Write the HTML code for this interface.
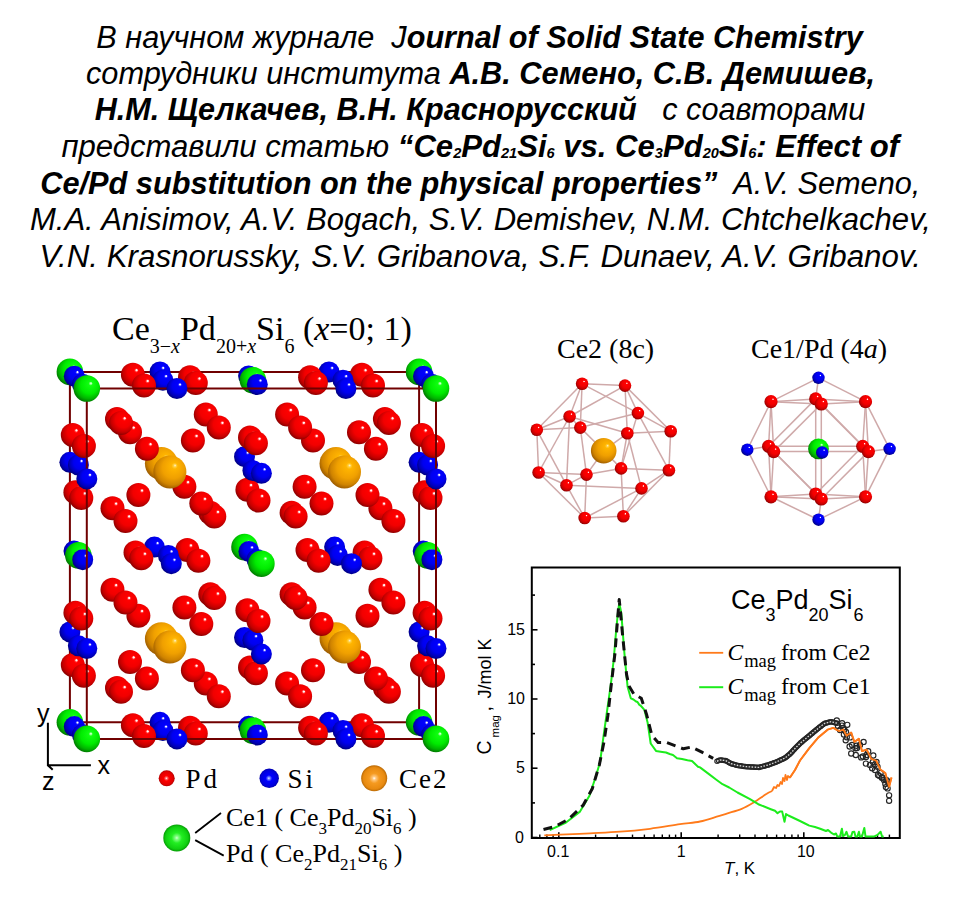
<!DOCTYPE html>
<html><head><meta charset="utf-8">
<style>
html,body{margin:0;padding:0;background:#fff;}
body{width:960px;height:903px;position:relative;overflow:hidden;}
.hd{position:absolute;left:0;width:960px;text-align:center;font-family:"Liberation Sans",sans-serif;font-style:italic;font-size:31px;line-height:37px;color:#000;white-space:pre;transform-origin:480px 50%;}
.hd b{font-weight:bold;}
.hd sub{font-size:14.5px;vertical-align:baseline;position:relative;top:0.5px;}
svg{position:absolute;left:0;top:0;}
</style></head><body>
<div class="hd" style="top:19px;transform:translateX(-0.45px) scaleX(0.988)">В научном журнале  J<b>ournal of Solid State Chemistry</b></div>
<div class="hd" style="top:55px;transform:translateX(0.55px) scaleX(0.991)">сотрудники института <b>А.В. Семено, С.В. Демишев,</b></div>
<div class="hd" style="top:91px;transform:scaleX(0.987)"><b>Н.М. Щелкачев, В.Н. Краснорусский</b>   с соавторами</div>
<div class="hd" style="top:128px;transform:translateX(0.25px) scaleX(1.0025)">представили статью <b>“Ce<sub>2</sub>Pd<sub>21</sub>Si<sub>6</sub> vs. Ce<sub>3</sub>Pd<sub>20</sub>Si<sub>6</sub>: Effect of</b></div>
<div class="hd" style="top:165px;transform:translateX(0.35px) scaleX(0.990)"><b>Ce/Pd substitution on the physical properties”</b>  A.V. Semeno,</div>
<div class="hd" style="top:201px;transform:translateX(0.45px) scaleX(1.002)">M.A. Anisimov, A.V. Bogach, S.V. Demishev, N.M. Chtchelkachev,</div>
<div class="hd" style="top:238px;transform:translateX(0.2px) scaleX(1.009)">V.N. Krasnorussky, S.V. Gribanova, S.F. Dunaev, A.V. Gribanov.</div>
<svg width="960" height="903" viewBox="0 0 960 903">
<defs>
<radialGradient id="gR" cx="0.56" cy="0.42" r="0.6" fx="0.66" fy="0.3"><stop offset="0" stop-color="#fff"/><stop offset="0.05" stop-color="#fff0f0"/><stop offset="0.1" stop-color="#ff4040"/><stop offset="0.16" stop-color="#ff0000"/><stop offset="0.55" stop-color="#f20000"/><stop offset="0.82" stop-color="#c40000"/><stop offset="1" stop-color="#860000"/></radialGradient>
<radialGradient id="gB" cx="0.56" cy="0.42" r="0.6" fx="0.66" fy="0.3"><stop offset="0" stop-color="#fff"/><stop offset="0.05" stop-color="#f0f0ff"/><stop offset="0.1" stop-color="#4848ff"/><stop offset="0.16" stop-color="#0000ff"/><stop offset="0.55" stop-color="#0000f0"/><stop offset="0.82" stop-color="#0000b8"/><stop offset="1" stop-color="#000078"/></radialGradient>
<radialGradient id="gG" cx="0.56" cy="0.42" r="0.6" fx="0.66" fy="0.3"><stop offset="0" stop-color="#fff"/><stop offset="0.06" stop-color="#90ff90"/><stop offset="0.13" stop-color="#10ff10"/><stop offset="0.55" stop-color="#00ec00"/><stop offset="0.82" stop-color="#00b400"/><stop offset="1" stop-color="#007400"/></radialGradient>
<radialGradient id="gO" cx="0.56" cy="0.42" r="0.6" fx="0.66" fy="0.3"><stop offset="0" stop-color="#fff4e0"/><stop offset="0.07" stop-color="#ffd040"/><stop offset="0.16" stop-color="#ffb400"/><stop offset="0.55" stop-color="#f0a000"/><stop offset="0.82" stop-color="#d08400"/><stop offset="1" stop-color="#9a5a00"/></radialGradient>
<radialGradient id="gLR" cx="0.5" cy="0.5" r="0.55" fx="0.48" fy="0.5"><stop offset="0" stop-color="#fff"/><stop offset="0.12" stop-color="#ff7070"/><stop offset="0.3" stop-color="#ff0000"/><stop offset="0.75" stop-color="#e00000"/><stop offset="1" stop-color="#900000"/></radialGradient>
<radialGradient id="gLB" cx="0.5" cy="0.5" r="0.55" fx="0.48" fy="0.5"><stop offset="0" stop-color="#e0e8ff"/><stop offset="0.12" stop-color="#7080ff"/><stop offset="0.3" stop-color="#0000ff"/><stop offset="0.75" stop-color="#0000dc"/><stop offset="1" stop-color="#000090"/></radialGradient>
<radialGradient id="gLO" cx="0.5" cy="0.5" r="0.55" fx="0.5" fy="0.5"><stop offset="0" stop-color="#fff"/><stop offset="0.12" stop-color="#ffc880"/><stop offset="0.35" stop-color="#f59a20"/><stop offset="0.75" stop-color="#e88a10"/><stop offset="1" stop-color="#a05800"/></radialGradient>
<radialGradient id="gLG" cx="0.5" cy="0.5" r="0.55" fx="0.5" fy="0.5"><stop offset="0" stop-color="#d0ffd0"/><stop offset="0.12" stop-color="#80ff80"/><stop offset="0.35" stop-color="#22ee22"/><stop offset="0.75" stop-color="#10d010"/><stop offset="1" stop-color="#008000"/></radialGradient>
</defs>
<path d="M69.9 371.9H419.1V722.3H69.9Z" fill="none" stroke="#700000" stroke-width="2"/>
<circle cx="69.9" cy="371.9" r="13.3" fill="url(#gG)"/>
<circle cx="69.9" cy="462.3" r="10.5" fill="url(#gB)"/>
<circle cx="69.9" cy="631.9" r="10.5" fill="url(#gB)"/>
<circle cx="69.9" cy="722.3" r="13.3" fill="url(#gG)"/>
<circle cx="130.0" cy="432.2" r="12.0" fill="url(#gR)"/>
<circle cx="130.0" cy="662.0" r="12.0" fill="url(#gR)"/>
<circle cx="154.4" cy="547.1" r="10.5" fill="url(#gB)"/>
<circle cx="160.0" cy="371.9" r="10.5" fill="url(#gB)"/>
<circle cx="160.0" cy="722.3" r="10.5" fill="url(#gB)"/>
<circle cx="184.4" cy="486.8" r="12.0" fill="url(#gR)"/>
<circle cx="184.4" cy="607.4" r="12.0" fill="url(#gR)"/>
<circle cx="244.5" cy="456.7" r="10.5" fill="url(#gB)"/>
<circle cx="244.5" cy="547.1" r="13.3" fill="url(#gG)"/>
<circle cx="244.5" cy="637.5" r="10.5" fill="url(#gB)"/>
<circle cx="304.6" cy="486.8" r="12.0" fill="url(#gR)"/>
<circle cx="304.6" cy="607.4" r="12.0" fill="url(#gR)"/>
<circle cx="329.0" cy="371.9" r="10.5" fill="url(#gB)"/>
<circle cx="329.0" cy="722.3" r="10.5" fill="url(#gB)"/>
<circle cx="334.6" cy="547.1" r="10.5" fill="url(#gB)"/>
<circle cx="359.0" cy="432.2" r="12.0" fill="url(#gR)"/>
<circle cx="359.0" cy="662.0" r="12.0" fill="url(#gR)"/>
<circle cx="419.1" cy="371.9" r="13.3" fill="url(#gG)"/>
<circle cx="419.1" cy="462.3" r="10.5" fill="url(#gB)"/>
<circle cx="419.1" cy="631.9" r="10.5" fill="url(#gB)"/>
<circle cx="419.1" cy="722.3" r="13.3" fill="url(#gG)"/>
<circle cx="112.5" cy="508.2" r="12.0" fill="url(#gR)"/>
<circle cx="112.5" cy="589.8" r="12.0" fill="url(#gR)"/>
<circle cx="205.8" cy="414.6" r="12.0" fill="url(#gR)"/>
<circle cx="205.8" cy="683.4" r="12.0" fill="url(#gR)"/>
<circle cx="287.1" cy="414.6" r="12.0" fill="url(#gR)"/>
<circle cx="287.1" cy="683.4" r="12.0" fill="url(#gR)"/>
<circle cx="380.4" cy="508.2" r="12.0" fill="url(#gR)"/>
<circle cx="380.4" cy="589.8" r="12.0" fill="url(#gR)"/>
<circle cx="72.8" cy="435.0" r="12.0" fill="url(#gR)"/>
<circle cx="72.8" cy="664.9" r="12.0" fill="url(#gR)"/>
<circle cx="132.9" cy="374.8" r="12.0" fill="url(#gR)"/>
<circle cx="132.9" cy="725.2" r="12.0" fill="url(#gR)"/>
<circle cx="187.3" cy="550.0" r="12.0" fill="url(#gR)"/>
<circle cx="247.4" cy="489.7" r="12.0" fill="url(#gR)"/>
<circle cx="247.4" cy="610.2" r="12.0" fill="url(#gR)"/>
<circle cx="307.5" cy="550.0" r="12.0" fill="url(#gR)"/>
<circle cx="361.9" cy="374.8" r="12.0" fill="url(#gR)"/>
<circle cx="361.9" cy="725.2" r="12.0" fill="url(#gR)"/>
<circle cx="422.0" cy="435.0" r="12.0" fill="url(#gR)"/>
<circle cx="422.0" cy="664.9" r="12.0" fill="url(#gR)"/>
<circle cx="74.0" cy="551.1" r="10.5" fill="url(#gB)"/>
<circle cx="248.6" cy="375.9" r="10.5" fill="url(#gB)"/>
<circle cx="248.6" cy="726.3" r="10.5" fill="url(#gB)"/>
<circle cx="423.2" cy="551.1" r="10.5" fill="url(#gB)"/>
<circle cx="161.4" cy="463.6" r="16.5" fill="url(#gO)"/>
<circle cx="161.4" cy="638.8" r="16.5" fill="url(#gO)"/>
<circle cx="336.0" cy="463.6" r="16.5" fill="url(#gO)"/>
<circle cx="336.0" cy="638.8" r="16.5" fill="url(#gO)"/>
<circle cx="74.3" cy="376.2" r="10.5" fill="url(#gB)"/>
<circle cx="74.3" cy="726.6" r="10.5" fill="url(#gB)"/>
<circle cx="248.9" cy="551.4" r="10.5" fill="url(#gB)"/>
<circle cx="423.5" cy="376.2" r="10.5" fill="url(#gB)"/>
<circle cx="423.5" cy="726.6" r="10.5" fill="url(#gB)"/>
<circle cx="75.4" cy="492.3" r="12.0" fill="url(#gR)"/>
<circle cx="75.4" cy="612.8" r="12.0" fill="url(#gR)"/>
<circle cx="135.5" cy="552.5" r="12.0" fill="url(#gR)"/>
<circle cx="190.0" cy="377.3" r="12.0" fill="url(#gR)"/>
<circle cx="190.0" cy="727.7" r="12.0" fill="url(#gR)"/>
<circle cx="250.0" cy="437.6" r="12.0" fill="url(#gR)"/>
<circle cx="250.0" cy="667.5" r="12.0" fill="url(#gR)"/>
<circle cx="310.1" cy="377.3" r="12.0" fill="url(#gR)"/>
<circle cx="310.1" cy="727.7" r="12.0" fill="url(#gR)"/>
<circle cx="364.6" cy="552.5" r="12.0" fill="url(#gR)"/>
<circle cx="424.6" cy="492.3" r="12.0" fill="url(#gR)"/>
<circle cx="424.6" cy="612.8" r="12.0" fill="url(#gR)"/>
<circle cx="117.0" cy="419.1" r="12.0" fill="url(#gR)"/>
<circle cx="117.0" cy="687.9" r="12.0" fill="url(#gR)"/>
<circle cx="210.3" cy="512.7" r="12.0" fill="url(#gR)"/>
<circle cx="210.3" cy="594.3" r="12.0" fill="url(#gR)"/>
<circle cx="291.6" cy="512.7" r="12.0" fill="url(#gR)"/>
<circle cx="291.6" cy="594.3" r="12.0" fill="url(#gR)"/>
<circle cx="384.9" cy="419.1" r="12.0" fill="url(#gR)"/>
<circle cx="384.9" cy="687.9" r="12.0" fill="url(#gR)"/>
<circle cx="78.4" cy="465.0" r="10.5" fill="url(#gB)"/>
<circle cx="78.4" cy="555.4" r="13.3" fill="url(#gG)"/>
<circle cx="78.4" cy="645.8" r="10.5" fill="url(#gB)"/>
<circle cx="138.4" cy="495.1" r="12.0" fill="url(#gR)"/>
<circle cx="138.4" cy="615.7" r="12.0" fill="url(#gR)"/>
<circle cx="162.9" cy="380.2" r="10.5" fill="url(#gB)"/>
<circle cx="162.9" cy="730.6" r="10.5" fill="url(#gB)"/>
<circle cx="168.4" cy="555.4" r="10.5" fill="url(#gB)"/>
<circle cx="192.9" cy="440.5" r="12.0" fill="url(#gR)"/>
<circle cx="192.9" cy="670.3" r="12.0" fill="url(#gR)"/>
<circle cx="252.9" cy="380.2" r="13.3" fill="url(#gG)"/>
<circle cx="252.9" cy="470.6" r="10.5" fill="url(#gB)"/>
<circle cx="252.9" cy="640.2" r="10.5" fill="url(#gB)"/>
<circle cx="252.9" cy="730.6" r="13.3" fill="url(#gG)"/>
<circle cx="313.0" cy="440.5" r="12.0" fill="url(#gR)"/>
<circle cx="313.0" cy="670.3" r="12.0" fill="url(#gR)"/>
<circle cx="337.5" cy="555.4" r="10.5" fill="url(#gB)"/>
<circle cx="343.0" cy="380.2" r="10.5" fill="url(#gB)"/>
<circle cx="343.0" cy="730.6" r="10.5" fill="url(#gB)"/>
<circle cx="367.5" cy="495.1" r="12.0" fill="url(#gR)"/>
<circle cx="367.5" cy="615.7" r="12.0" fill="url(#gR)"/>
<circle cx="427.6" cy="465.0" r="10.5" fill="url(#gB)"/>
<circle cx="427.6" cy="555.4" r="13.3" fill="url(#gG)"/>
<circle cx="427.6" cy="645.8" r="10.5" fill="url(#gB)"/>
<circle cx="121.0" cy="422.9" r="12.0" fill="url(#gR)"/>
<circle cx="121.0" cy="691.7" r="12.0" fill="url(#gR)"/>
<circle cx="214.3" cy="516.5" r="12.0" fill="url(#gR)"/>
<circle cx="214.3" cy="598.1" r="12.0" fill="url(#gR)"/>
<circle cx="295.6" cy="516.5" r="12.0" fill="url(#gR)"/>
<circle cx="295.6" cy="598.1" r="12.0" fill="url(#gR)"/>
<circle cx="388.9" cy="422.9" r="12.0" fill="url(#gR)"/>
<circle cx="388.9" cy="691.7" r="12.0" fill="url(#gR)"/>
<circle cx="81.3" cy="498.0" r="12.0" fill="url(#gR)"/>
<circle cx="81.3" cy="618.5" r="12.0" fill="url(#gR)"/>
<circle cx="141.3" cy="558.3" r="12.0" fill="url(#gR)"/>
<circle cx="195.8" cy="383.1" r="12.0" fill="url(#gR)"/>
<circle cx="195.8" cy="733.5" r="12.0" fill="url(#gR)"/>
<circle cx="255.9" cy="443.3" r="12.0" fill="url(#gR)"/>
<circle cx="255.9" cy="673.2" r="12.0" fill="url(#gR)"/>
<circle cx="315.9" cy="383.1" r="12.0" fill="url(#gR)"/>
<circle cx="315.9" cy="733.5" r="12.0" fill="url(#gR)"/>
<circle cx="370.4" cy="558.3" r="12.0" fill="url(#gR)"/>
<circle cx="430.5" cy="498.0" r="12.0" fill="url(#gR)"/>
<circle cx="430.5" cy="618.5" r="12.0" fill="url(#gR)"/>
<circle cx="82.4" cy="384.2" r="10.5" fill="url(#gB)"/>
<circle cx="82.4" cy="734.6" r="10.5" fill="url(#gB)"/>
<circle cx="257.0" cy="559.4" r="10.5" fill="url(#gB)"/>
<circle cx="431.6" cy="384.2" r="10.5" fill="url(#gB)"/>
<circle cx="431.6" cy="734.6" r="10.5" fill="url(#gB)"/>
<circle cx="169.9" cy="471.9" r="16.5" fill="url(#gO)"/>
<circle cx="169.9" cy="647.1" r="16.5" fill="url(#gO)"/>
<circle cx="344.5" cy="471.9" r="16.5" fill="url(#gO)"/>
<circle cx="344.5" cy="647.1" r="16.5" fill="url(#gO)"/>
<circle cx="82.7" cy="559.7" r="10.5" fill="url(#gB)"/>
<circle cx="257.3" cy="384.5" r="10.5" fill="url(#gB)"/>
<circle cx="257.3" cy="734.9" r="10.5" fill="url(#gB)"/>
<circle cx="431.9" cy="559.7" r="10.5" fill="url(#gB)"/>
<circle cx="83.9" cy="445.9" r="12.0" fill="url(#gR)"/>
<circle cx="83.9" cy="675.8" r="12.0" fill="url(#gR)"/>
<circle cx="144.0" cy="385.6" r="12.0" fill="url(#gR)"/>
<circle cx="144.0" cy="736.0" r="12.0" fill="url(#gR)"/>
<circle cx="198.4" cy="560.8" r="12.0" fill="url(#gR)"/>
<circle cx="258.5" cy="500.6" r="12.0" fill="url(#gR)"/>
<circle cx="258.5" cy="621.1" r="12.0" fill="url(#gR)"/>
<circle cx="318.6" cy="560.8" r="12.0" fill="url(#gR)"/>
<circle cx="373.0" cy="385.6" r="12.0" fill="url(#gR)"/>
<circle cx="373.0" cy="736.0" r="12.0" fill="url(#gR)"/>
<circle cx="433.1" cy="445.9" r="12.0" fill="url(#gR)"/>
<circle cx="433.1" cy="675.8" r="12.0" fill="url(#gR)"/>
<circle cx="125.5" cy="521.0" r="12.0" fill="url(#gR)"/>
<circle cx="125.5" cy="602.6" r="12.0" fill="url(#gR)"/>
<circle cx="218.8" cy="427.4" r="12.0" fill="url(#gR)"/>
<circle cx="218.8" cy="696.2" r="12.0" fill="url(#gR)"/>
<circle cx="300.1" cy="427.4" r="12.0" fill="url(#gR)"/>
<circle cx="300.1" cy="696.2" r="12.0" fill="url(#gR)"/>
<circle cx="393.4" cy="521.0" r="12.0" fill="url(#gR)"/>
<circle cx="393.4" cy="602.6" r="12.0" fill="url(#gR)"/>
<path d="M86.8 388.5H436V738.9H86.8Z" fill="none" stroke="#700000" stroke-width="2"/>
<circle cx="86.8" cy="388.5" r="13.3" fill="url(#gG)"/>
<circle cx="86.8" cy="478.9" r="10.5" fill="url(#gB)"/>
<circle cx="86.8" cy="648.5" r="10.5" fill="url(#gB)"/>
<circle cx="86.8" cy="738.9" r="13.3" fill="url(#gG)"/>
<circle cx="146.9" cy="448.8" r="12.0" fill="url(#gR)"/>
<circle cx="146.9" cy="678.6" r="12.0" fill="url(#gR)"/>
<circle cx="171.3" cy="563.7" r="10.5" fill="url(#gB)"/>
<circle cx="176.9" cy="388.5" r="10.5" fill="url(#gB)"/>
<circle cx="176.9" cy="738.9" r="10.5" fill="url(#gB)"/>
<circle cx="201.3" cy="503.4" r="12.0" fill="url(#gR)"/>
<circle cx="201.3" cy="624.0" r="12.0" fill="url(#gR)"/>
<circle cx="261.4" cy="473.3" r="10.5" fill="url(#gB)"/>
<circle cx="261.4" cy="563.7" r="13.3" fill="url(#gG)"/>
<circle cx="261.4" cy="654.1" r="10.5" fill="url(#gB)"/>
<circle cx="321.5" cy="503.4" r="12.0" fill="url(#gR)"/>
<circle cx="321.5" cy="624.0" r="12.0" fill="url(#gR)"/>
<circle cx="345.9" cy="388.5" r="10.5" fill="url(#gB)"/>
<circle cx="345.9" cy="738.9" r="10.5" fill="url(#gB)"/>
<circle cx="351.5" cy="563.7" r="10.5" fill="url(#gB)"/>
<circle cx="375.9" cy="448.8" r="12.0" fill="url(#gR)"/>
<circle cx="375.9" cy="678.6" r="12.0" fill="url(#gR)"/>
<circle cx="436.0" cy="388.5" r="13.3" fill="url(#gG)"/>
<circle cx="436.0" cy="478.9" r="10.5" fill="url(#gB)"/>
<circle cx="436.0" cy="648.5" r="10.5" fill="url(#gB)"/>
<circle cx="436.0" cy="738.9" r="13.3" fill="url(#gG)"/>
<g stroke="#cfa9a9" stroke-width="1.5" fill="none">
<line x1="582.1" y1="383.8" x2="625" y2="385.6"/>
<line x1="582.1" y1="383.8" x2="569.6" y2="416.5"/>
<line x1="582.1" y1="383.8" x2="536.8" y2="429.8"/>
<line x1="582.1" y1="383.8" x2="580.3" y2="427.6"/>
<line x1="582.1" y1="383.8" x2="637.9" y2="413.1"/>
<line x1="625" y1="385.6" x2="569.6" y2="416.5"/>
<line x1="625" y1="385.6" x2="637.9" y2="413.1"/>
<line x1="625" y1="385.6" x2="627.3" y2="433.3"/>
<line x1="625" y1="385.6" x2="670.7" y2="431.2"/>
<line x1="569.6" y1="416.5" x2="536.8" y2="429.8"/>
<line x1="569.6" y1="416.5" x2="627.3" y2="433.3"/>
<line x1="569.6" y1="416.5" x2="538.6" y2="472.5"/>
<line x1="569.6" y1="416.5" x2="566.5" y2="485.2"/>
<line x1="637.9" y1="413.1" x2="580.3" y2="427.6"/>
<line x1="637.9" y1="413.1" x2="670.7" y2="431.2"/>
<line x1="637.9" y1="413.1" x2="668.9" y2="470.2"/>
<line x1="637.9" y1="413.1" x2="621.1" y2="468.4"/>
<line x1="536.8" y1="429.8" x2="580.3" y2="427.6"/>
<line x1="536.8" y1="429.8" x2="538.6" y2="472.5"/>
<line x1="536.8" y1="429.8" x2="566.5" y2="485.2"/>
<line x1="580.3" y1="427.6" x2="586.5" y2="474.6"/>
<line x1="627.3" y1="433.3" x2="670.7" y2="431.2"/>
<line x1="627.3" y1="433.3" x2="621.1" y2="468.4"/>
<line x1="627.3" y1="433.3" x2="641.5" y2="488.4"/>
<line x1="670.7" y1="431.2" x2="668.9" y2="470.2"/>
<line x1="538.6" y1="472.5" x2="586.5" y2="474.6"/>
<line x1="538.6" y1="472.5" x2="566.5" y2="485.2"/>
<line x1="538.6" y1="472.5" x2="584.7" y2="518"/>
<line x1="586.5" y1="474.6" x2="621.1" y2="468.4"/>
<line x1="586.5" y1="474.6" x2="566.5" y2="485.2"/>
<line x1="586.5" y1="474.6" x2="584.7" y2="518"/>
<line x1="621.1" y1="468.4" x2="668.9" y2="470.2"/>
<line x1="621.1" y1="468.4" x2="623.4" y2="516.3"/>
<line x1="668.9" y1="470.2" x2="641.5" y2="488.4"/>
<line x1="668.9" y1="470.2" x2="623.4" y2="516.3"/>
<line x1="566.5" y1="485.2" x2="641.5" y2="488.4"/>
<line x1="566.5" y1="485.2" x2="584.7" y2="518"/>
<line x1="641.5" y1="488.4" x2="584.7" y2="518"/>
<line x1="641.5" y1="488.4" x2="623.4" y2="516.3"/>
<line x1="584.7" y1="518" x2="623.4" y2="516.3"/>
<line x1="569.6" y1="416.5" x2="580.3" y2="427.6"/>
<line x1="580.3" y1="427.6" x2="603.7" y2="450.7"/>
<line x1="627.3" y1="433.3" x2="603.7" y2="450.7"/>
<line x1="586.5" y1="474.6" x2="603.7" y2="450.7"/>
<line x1="621.1" y1="468.4" x2="603.7" y2="450.7"/>
</g>
<circle cx="582.1" cy="383.8" r="6.3" fill="url(#gR)"/>
<circle cx="625" cy="385.6" r="6.3" fill="url(#gR)"/>
<circle cx="569.6" cy="416.5" r="6.3" fill="url(#gR)"/>
<circle cx="637.9" cy="413.1" r="6.3" fill="url(#gR)"/>
<circle cx="536.8" cy="429.8" r="6.3" fill="url(#gR)"/>
<circle cx="580.3" cy="427.6" r="6.3" fill="url(#gR)"/>
<circle cx="627.3" cy="433.3" r="6.3" fill="url(#gR)"/>
<circle cx="670.7" cy="431.2" r="6.3" fill="url(#gR)"/>
<circle cx="538.6" cy="472.5" r="6.3" fill="url(#gR)"/>
<circle cx="586.5" cy="474.6" r="6.3" fill="url(#gR)"/>
<circle cx="621.1" cy="468.4" r="6.3" fill="url(#gR)"/>
<circle cx="668.9" cy="470.2" r="6.3" fill="url(#gR)"/>
<circle cx="566.5" cy="485.2" r="6.3" fill="url(#gR)"/>
<circle cx="641.5" cy="488.4" r="6.3" fill="url(#gR)"/>
<circle cx="584.7" cy="518" r="6.3" fill="url(#gR)"/>
<circle cx="623.4" cy="516.3" r="6.3" fill="url(#gR)"/>
<circle cx="603.7" cy="450.7" r="12.8" fill="url(#gO)"/>
<g stroke="#cfa9a9" stroke-width="1.5" fill="none">
<line x1="818.5" y1="377.8" x2="771" y2="401.7"/>
<line x1="818.5" y1="377.8" x2="865.5" y2="401.7"/>
<line x1="818.5" y1="377.8" x2="815.7" y2="398.9"/>
<line x1="747.3" y1="449.7" x2="771" y2="401.7"/>
<line x1="747.3" y1="449.7" x2="771" y2="496.8"/>
<line x1="747.3" y1="449.7" x2="768.6" y2="446.3"/>
<line x1="889.6" y1="448.8" x2="865.5" y2="401.7"/>
<line x1="889.6" y1="448.8" x2="865.5" y2="496.8"/>
<line x1="889.6" y1="448.8" x2="868.4" y2="451.6"/>
<line x1="818.5" y1="519.7" x2="771" y2="496.8"/>
<line x1="818.5" y1="519.7" x2="865.5" y2="496.8"/>
<line x1="818.5" y1="519.7" x2="821.3" y2="499"/>
<line x1="771" y1="401.7" x2="815.7" y2="398.9"/>
<line x1="821.3" y1="404" x2="865.5" y2="401.7"/>
<line x1="771" y1="401.7" x2="821.3" y2="404"/>
<line x1="815.7" y1="398.9" x2="865.5" y2="401.7"/>
<line x1="771" y1="496.8" x2="815.7" y2="494"/>
<line x1="821.3" y1="499" x2="865.5" y2="496.8"/>
<line x1="771" y1="496.8" x2="821.3" y2="499"/>
<line x1="815.7" y1="494" x2="865.5" y2="496.8"/>
<line x1="771" y1="401.7" x2="768.6" y2="446.3"/>
<line x1="773.7" y1="451.6" x2="771" y2="496.8"/>
<line x1="771" y1="401.7" x2="773.7" y2="451.6"/>
<line x1="768.6" y1="446.3" x2="771" y2="496.8"/>
<line x1="865.5" y1="401.7" x2="862.7" y2="446.3"/>
<line x1="868.4" y1="451.6" x2="865.5" y2="496.8"/>
<line x1="865.5" y1="401.7" x2="868.4" y2="451.6"/>
<line x1="862.7" y1="446.3" x2="865.5" y2="496.8"/>
<line x1="815.7" y1="398.9" x2="768.6" y2="446.3"/>
<line x1="821.3" y1="404" x2="773.7" y2="451.6"/>
<line x1="815.7" y1="398.9" x2="862.7" y2="446.3"/>
<line x1="821.3" y1="404" x2="868.4" y2="451.6"/>
<line x1="815.7" y1="494" x2="768.6" y2="446.3"/>
<line x1="821.3" y1="499" x2="773.7" y2="451.6"/>
<line x1="815.7" y1="494" x2="862.7" y2="446.3"/>
<line x1="821.3" y1="499" x2="868.4" y2="451.6"/>
<line x1="815.7" y1="398.9" x2="815.7" y2="494"/>
<line x1="821.3" y1="404" x2="821.3" y2="499"/>
<line x1="768.6" y1="446.3" x2="862.7" y2="446.3"/>
<line x1="773.7" y1="451.6" x2="868.4" y2="451.6"/>
</g>
<circle cx="771" cy="401.7" r="6.6" fill="url(#gR)"/>
<circle cx="865.5" cy="401.7" r="6.6" fill="url(#gR)"/>
<circle cx="771" cy="496.8" r="6.6" fill="url(#gR)"/>
<circle cx="865.5" cy="496.8" r="6.6" fill="url(#gR)"/>
<circle cx="815.7" cy="398.9" r="6.6" fill="url(#gR)"/>
<circle cx="768.6" cy="446.3" r="6.6" fill="url(#gR)"/>
<circle cx="862.7" cy="446.3" r="6.6" fill="url(#gR)"/>
<circle cx="815.7" cy="494" r="6.6" fill="url(#gR)"/>
<circle cx="818.5" cy="448.8" r="10.4" fill="url(#gG)"/>
<circle cx="821.3" cy="404" r="6.6" fill="url(#gR)"/>
<circle cx="773.7" cy="451.6" r="6.6" fill="url(#gR)"/>
<circle cx="868.4" cy="451.6" r="6.6" fill="url(#gR)"/>
<circle cx="821.3" cy="499" r="6.6" fill="url(#gR)"/>
<circle cx="818.5" cy="377.8" r="6.2" fill="url(#gB)"/>
<circle cx="747.3" cy="449.7" r="6.2" fill="url(#gB)"/>
<circle cx="889.6" cy="448.8" r="6.2" fill="url(#gB)"/>
<circle cx="818.5" cy="519.7" r="6.2" fill="url(#gB)"/>
<circle cx="822.2" cy="452.5" r="6.2" fill="url(#gB)"/>
<path d="M531.8 567.4H899.8V838.1H531.8Z" fill="none" stroke="#000" stroke-width="2"/>
<line x1="531.8" y1="837.5" x2="537.5" y2="837.5" stroke="#000" stroke-width="1.6"/>
<line x1="531.8" y1="768.2" x2="537.5" y2="768.2" stroke="#000" stroke-width="1.6"/>
<line x1="531.8" y1="699.0" x2="537.5" y2="699.0" stroke="#000" stroke-width="1.6"/>
<line x1="531.8" y1="629.8" x2="537.5" y2="629.8" stroke="#000" stroke-width="1.6"/>
<line x1="531.8" y1="802.9" x2="535" y2="802.9" stroke="#000" stroke-width="1.6"/>
<line x1="531.8" y1="733.6" x2="535" y2="733.6" stroke="#000" stroke-width="1.6"/>
<line x1="531.8" y1="664.4" x2="535" y2="664.4" stroke="#000" stroke-width="1.6"/>
<line x1="531.8" y1="595.1" x2="535" y2="595.1" stroke="#000" stroke-width="1.6"/>
<line x1="558.8" y1="838" x2="558.8" y2="832.3" stroke="#000" stroke-width="1.6"/>
<line x1="681.2" y1="838" x2="681.2" y2="832.3" stroke="#000" stroke-width="1.6"/>
<line x1="803.8" y1="838" x2="803.8" y2="832.3" stroke="#000" stroke-width="1.6"/>
<line x1="539.8" y1="838" x2="539.8" y2="834.6" stroke="#000" stroke-width="1.4"/>
<line x1="546.9" y1="838" x2="546.9" y2="834.6" stroke="#000" stroke-width="1.4"/>
<line x1="553.1" y1="838" x2="553.1" y2="834.6" stroke="#000" stroke-width="1.4"/>
<line x1="595.6" y1="838" x2="595.6" y2="834.6" stroke="#000" stroke-width="1.4"/>
<line x1="617.2" y1="838" x2="617.2" y2="834.6" stroke="#000" stroke-width="1.4"/>
<line x1="632.5" y1="838" x2="632.5" y2="834.6" stroke="#000" stroke-width="1.4"/>
<line x1="644.4" y1="838" x2="644.4" y2="834.6" stroke="#000" stroke-width="1.4"/>
<line x1="654.1" y1="838" x2="654.1" y2="834.6" stroke="#000" stroke-width="1.4"/>
<line x1="662.3" y1="838" x2="662.3" y2="834.6" stroke="#000" stroke-width="1.4"/>
<line x1="669.4" y1="838" x2="669.4" y2="834.6" stroke="#000" stroke-width="1.4"/>
<line x1="675.6" y1="838" x2="675.6" y2="834.6" stroke="#000" stroke-width="1.4"/>
<line x1="718.1" y1="838" x2="718.1" y2="834.6" stroke="#000" stroke-width="1.4"/>
<line x1="739.7" y1="838" x2="739.7" y2="834.6" stroke="#000" stroke-width="1.4"/>
<line x1="755.0" y1="838" x2="755.0" y2="834.6" stroke="#000" stroke-width="1.4"/>
<line x1="766.9" y1="838" x2="766.9" y2="834.6" stroke="#000" stroke-width="1.4"/>
<line x1="776.6" y1="838" x2="776.6" y2="834.6" stroke="#000" stroke-width="1.4"/>
<line x1="784.8" y1="838" x2="784.8" y2="834.6" stroke="#000" stroke-width="1.4"/>
<line x1="791.9" y1="838" x2="791.9" y2="834.6" stroke="#000" stroke-width="1.4"/>
<line x1="798.1" y1="838" x2="798.1" y2="834.6" stroke="#000" stroke-width="1.4"/>
<line x1="840.6" y1="838" x2="840.6" y2="834.6" stroke="#000" stroke-width="1.4"/>
<line x1="862.2" y1="838" x2="862.2" y2="834.6" stroke="#000" stroke-width="1.4"/>
<line x1="877.5" y1="838" x2="877.5" y2="834.6" stroke="#000" stroke-width="1.4"/>
<line x1="889.4" y1="838" x2="889.4" y2="834.6" stroke="#000" stroke-width="1.4"/>
<path d="M544.3 835.3 C546.9 835.2 552.4 834.9 560.0 834.6 C567.6 834.3 580.0 833.8 590.0 833.3 C600.0 832.8 610.0 832.5 620.0 831.7 C630.0 831.0 640.0 830.0 650.0 828.8 C660.0 827.5 671.7 825.4 680.0 824.2 C688.3 823.0 693.9 822.8 700.0 821.5 C706.1 820.2 712.1 818.1 716.7 816.7 C721.3 815.3 723.3 814.6 727.5 813.3 C731.7 812.0 737.2 810.6 741.7 808.8 C746.2 806.9 750.0 804.6 754.2 802.1 C758.4 799.6 763.7 795.6 766.7 793.8 C769.7 791.9 771.1 791.5 772.0 791.0" fill="none" stroke="#ff7a1a" stroke-width="1.8"/>
<polyline points="772.0,791.0 774.0,787.0 776.0,788.0 777.5,785.0 779.0,786.0 780.6,782.0 782.0,784.0 783.0,778.0 784.5,781.0 785.5,775.0 787.0,780.0 788.0,776.0 790.0,777.5 795.0,770.0 800.0,760.5 809.3,748.1 818.6,737.2 827.9,729.5 833.3,727.9 838.8,731.0 843.4,729.5 846.5,735.7 851.2,732.6 854.3,741.9 858.9,738.8 862.0,751.2 866.7,749.6 871.3,758.9 876.0,760.5 880.6,769.8 885.3,772.9 889.1,786.8 891.5,777.5" fill="none" stroke="#ff7a1a" stroke-width="1.8" stroke-linejoin="round"/>
<polyline points="549.7,830.2 566.0,822.5 580.0,811.6 589.3,796.1 595.5,777.5 600.1,762.0 603.4,737.2 606.5,715.0 610.8,684.6 613.7,660.0 616.0,632.1 618.0,612.0 619.2,603.7 620.3,608.0 621.3,613.1 624.4,653.1 626.5,676.0 627.6,686.7 630.8,698.3 633.5,699.5 636.0,701.5 637.5,702.0 639.2,704.6 641.0,706.0 644.4,709.9 647.6,722.5 650.7,743.5 656.0,750.9 662.3,751.9 666.0,752.5 669.7,754.0 673.0,755.0 677.0,758.2 682.0,759.0 687.5,760.3 692.0,761.0 698.0,766.7 700.0,767.4 709.3,774.4 716.7,780.0 722.5,784.2 729.2,787.5 737.5,792.5 750.0,799.2 758.3,804.2 770.8,809.2 775.0,810.8 777.5,813.2 780.0,811.5 782.2,811.6 784.5,821.7 786.0,814.0 788.4,815.5 800.0,821.0 805.0,823.5 809.3,825.6 815.0,827.0 820.2,828.7 826.0,831.0 828.0,830.0 831.0,832.6 834.0,834.5 836.0,833.5 837.2,836.4 840.0,836.5 841.9,828.7 843.0,836.0 845.0,834.9 846.5,831.8 848.0,836.4 851.2,836.4 852.5,832.0 854.3,831.8 855.5,836.4 857.4,836.4 858.9,831.8 860.0,836.4 862.0,836.4 864.3,827.9 865.5,836.4 866.7,836.4 874.4,836.4 877.5,834.9 880.6,831.8 882.0,836.4 883.7,836.4" fill="none" stroke="#1cec1c" stroke-width="2" stroke-linejoin="round"/>
<polyline points="543.5,829.5 555.2,826.4 568.3,819.4 583.0,805.4 592.4,788.4 599.3,765.1 604.0,741.9 607.9,715.5 611.0,687.0 615.0,653.1 617.5,620.0 619.2,599.5 620.5,612.0 622.3,632.1 626.5,674.1 629.0,686.0 633.9,694.1 641.3,698.3 646.5,714.1 651.8,735.1 658.1,742.5 666.5,742.5 683.3,748.8 691.5,747.0 702.9,752.7 713.2,758.4" fill="none" stroke="#111" stroke-width="3" stroke-dasharray="9 6" stroke-linejoin="round"/>
<g fill="none" stroke="#262626" stroke-width="1.15"><circle cx="717.0" cy="761.2" r="2.2"/><circle cx="718.5" cy="760.6" r="2.2"/><circle cx="720.0" cy="760.0" r="2.2"/><circle cx="721.4" cy="760.1" r="2.2"/><circle cx="722.8" cy="760.2" r="2.2"/><circle cx="724.2" cy="760.4" r="2.2"/><circle cx="725.6" cy="760.5" r="2.2"/><circle cx="726.7" cy="761.1" r="2.2"/><circle cx="727.8" cy="761.7" r="2.2"/><circle cx="728.8" cy="762.4" r="2.2"/><circle cx="729.9" cy="763.0" r="2.2"/><circle cx="731.0" cy="763.6" r="2.2"/><circle cx="732.2" cy="763.9" r="2.2"/><circle cx="733.3" cy="764.2" r="2.2"/><circle cx="734.5" cy="764.5" r="2.2"/><circle cx="735.7" cy="764.9" r="2.2"/><circle cx="736.8" cy="765.2" r="2.2"/><circle cx="738.0" cy="765.5" r="2.2"/><circle cx="739.2" cy="765.7" r="2.2"/><circle cx="740.4" cy="765.8" r="2.2"/><circle cx="741.6" cy="766.0" r="2.2"/><circle cx="742.9" cy="766.2" r="2.2"/><circle cx="744.1" cy="766.4" r="2.2"/><circle cx="745.3" cy="766.5" r="2.2"/><circle cx="746.5" cy="766.7" r="2.2"/><circle cx="747.7" cy="766.8" r="2.2"/><circle cx="749.0" cy="766.8" r="2.2"/><circle cx="750.2" cy="766.9" r="2.2"/><circle cx="751.5" cy="767.0" r="2.2"/><circle cx="752.7" cy="767.0" r="2.2"/><circle cx="753.9" cy="767.1" r="2.2"/><circle cx="755.2" cy="767.2" r="2.2"/><circle cx="756.4" cy="767.3" r="2.2"/><circle cx="757.7" cy="767.3" r="2.2"/><circle cx="758.9" cy="767.4" r="2.2"/><circle cx="760.1" cy="767.1" r="2.2"/><circle cx="761.2" cy="766.8" r="2.2"/><circle cx="762.4" cy="766.5" r="2.2"/><circle cx="763.5" cy="766.2" r="2.2"/><circle cx="764.7" cy="765.9" r="2.2"/><circle cx="765.9" cy="765.6" r="2.2"/><circle cx="767.0" cy="765.3" r="2.2"/><circle cx="768.2" cy="765.0" r="2.2"/><circle cx="769.4" cy="764.6" r="2.2"/><circle cx="770.5" cy="764.1" r="2.2"/><circle cx="771.7" cy="763.7" r="2.2"/><circle cx="772.9" cy="763.2" r="2.2"/><circle cx="774.0" cy="762.8" r="2.2"/><circle cx="775.2" cy="762.4" r="2.2"/><circle cx="776.3" cy="761.9" r="2.2"/><circle cx="777.5" cy="761.5" r="2.2"/><circle cx="778.8" cy="760.9" r="2.2"/><circle cx="780.0" cy="760.3" r="2.2"/><circle cx="781.2" cy="759.8" r="2.2"/><circle cx="782.5" cy="759.2" r="2.2"/><circle cx="783.8" cy="758.6" r="2.2"/><circle cx="785.0" cy="758.0" r="2.2"/><circle cx="786.0" cy="757.2" r="2.2"/><circle cx="787.0" cy="756.4" r="2.2"/><circle cx="788.0" cy="755.6" r="2.2"/><circle cx="789.0" cy="754.8" r="2.2"/><circle cx="790.0" cy="754.0" r="2.2"/><circle cx="790.8" cy="753.1" r="2.2"/><circle cx="791.7" cy="752.2" r="2.2"/><circle cx="792.5" cy="751.2" r="2.2"/><circle cx="793.3" cy="750.3" r="2.2"/><circle cx="794.2" cy="749.4" r="2.2"/><circle cx="795.0" cy="748.5" r="2.2"/><circle cx="796.0" cy="747.5" r="2.2"/><circle cx="797.0" cy="746.5" r="2.2"/><circle cx="798.0" cy="745.4" r="2.2"/><circle cx="799.0" cy="744.4" r="2.2"/><circle cx="800.0" cy="743.4" r="2.2"/><circle cx="800.9" cy="742.6" r="2.2"/><circle cx="801.9" cy="741.9" r="2.2"/><circle cx="802.8" cy="741.1" r="2.2"/><circle cx="803.7" cy="740.3" r="2.2"/><circle cx="804.6" cy="739.5" r="2.2"/><circle cx="805.6" cy="738.8" r="2.2"/><circle cx="806.5" cy="738.0" r="2.2"/><circle cx="807.4" cy="737.2" r="2.2"/><circle cx="808.4" cy="736.5" r="2.2"/><circle cx="809.3" cy="735.7" r="2.2"/><circle cx="810.2" cy="734.9" r="2.2"/><circle cx="811.2" cy="734.1" r="2.2"/><circle cx="812.1" cy="733.4" r="2.2"/><circle cx="813.0" cy="732.6" r="2.2"/><circle cx="814.0" cy="731.8" r="2.2"/><circle cx="814.9" cy="731.0" r="2.2"/><circle cx="815.8" cy="730.2" r="2.2"/><circle cx="816.7" cy="729.5" r="2.2"/><circle cx="817.7" cy="728.7" r="2.2"/><circle cx="818.6" cy="727.9" r="2.2"/><circle cx="819.6" cy="727.1" r="2.2"/><circle cx="820.7" cy="726.4" r="2.2"/><circle cx="821.7" cy="725.6" r="2.2"/><circle cx="822.7" cy="724.8" r="2.2"/><circle cx="823.8" cy="724.1" r="2.2"/><circle cx="824.8" cy="723.3" r="2.2"/><circle cx="826.0" cy="723.0" r="2.2"/><circle cx="827.3" cy="722.7" r="2.2"/><circle cx="828.5" cy="722.3" r="2.2"/><circle cx="829.8" cy="722.0" r="2.2"/><circle cx="831.0" cy="721.7" r="2.2"/><circle cx="832.2" cy="722.0" r="2.2"/><circle cx="833.5" cy="722.3" r="2.2"/><circle cx="834.7" cy="722.7" r="2.2"/><circle cx="836.0" cy="723.0" r="2.2"/><circle cx="837.2" cy="723.3" r="2.2"/><circle cx="841.9" cy="725.6" r="2.6"/><circle cx="847.3" cy="724.8" r="2.6"/><circle cx="845.7" cy="740.3" r="2.6"/><circle cx="849.6" cy="746.5" r="2.6"/><circle cx="851.2" cy="753.5" r="2.6"/><circle cx="855.8" cy="755.0" r="2.6"/><circle cx="861.2" cy="757.4" r="2.6"/><circle cx="863.6" cy="741.9" r="2.6"/><circle cx="865.9" cy="763.6" r="2.6"/><circle cx="868.2" cy="751.2" r="2.6"/><circle cx="872.9" cy="762.0" r="2.6"/><circle cx="872.1" cy="768.2" r="2.6"/><circle cx="877.5" cy="766.7" r="2.6"/><circle cx="880.6" cy="772.9" r="2.6"/><circle cx="882.2" cy="777.5" r="2.6"/><circle cx="885.3" cy="783.7" r="2.6"/><circle cx="887.6" cy="788.4" r="2.6"/><circle cx="889.1" cy="795.3" r="2.6"/><circle cx="889.1" cy="800.8" r="2.6"/><circle cx="840.0" cy="730.0" r="2.6"/><circle cx="843.0" cy="728.0" r="2.6"/><circle cx="852.0" cy="745.0" r="2.6"/><circle cx="857.0" cy="748.0" r="2.6"/><circle cx="860.0" cy="745.0" r="2.6"/><circle cx="866.0" cy="757.0" r="2.6"/><circle cx="870.0" cy="765.0" r="2.6"/><circle cx="875.0" cy="770.0" r="2.6"/><circle cx="878.0" cy="775.0" r="2.6"/><circle cx="884.0" cy="780.0" r="2.6"/><circle cx="846.0" cy="732.0" r="2.6"/><circle cx="838.0" cy="726.0" r="2.6"/><circle cx="836.8" cy="720.5" r="2.6"/><circle cx="842.1" cy="723.2" r="2.6"/><circle cx="844.3" cy="729.7" r="2.6"/><circle cx="843.9" cy="734.6" r="2.6"/><circle cx="846.8" cy="737.3" r="2.6"/><circle cx="850.0" cy="737.4" r="2.6"/><circle cx="855.5" cy="748.3" r="2.6"/><circle cx="856.4" cy="745.7" r="2.6"/><circle cx="862.9" cy="756.5" r="2.6"/><circle cx="866.5" cy="755.0" r="2.6"/><circle cx="873.3" cy="755.5" r="2.6"/><circle cx="876.5" cy="761.9" r="2.6"/><circle cx="874.8" cy="764.5" r="2.6"/><circle cx="879.3" cy="775.8" r="2.6"/><circle cx="881.8" cy="777.8" r="2.6"/><circle cx="886.6" cy="780.1" r="2.6"/><circle cx="887.7" cy="781.3" r="2.6"/><circle cx="885.9" cy="787.1" r="2.6"/></g>
<polyline points="717.0,761.2 720.0,760.0 725.6,760.5 731.0,763.6 738.0,765.5 746.5,766.7 758.9,767.4 768.2,765.0 777.5,761.5 785.0,758.0 790.0,754.0 795.0,748.5 800.0,743.4 809.3,735.7 818.6,727.9 824.8,723.3 831.0,721.7 837.2,723.3" fill="none" stroke="#d8d8d8" stroke-width="1.3" stroke-dasharray="1.6 1.4" stroke-linejoin="round"/>
<polyline points="790.0,777.5 795.0,770.0 800.0,760.5 809.3,748.1 818.6,737.2 827.9,729.5 833.3,727.9 838.8,731.0 843.4,729.5 846.5,735.7 851.2,732.6 854.3,741.9 858.9,738.8 862.0,751.2 866.7,749.6 871.3,758.9 876.0,760.5 880.6,769.8 885.3,772.9 889.1,786.8 891.5,777.5" fill="none" stroke="#ff7a1a" stroke-width="1.8" stroke-linejoin="round"/>

<text x="112" y="340" font-family="Liberation Serif, serif" font-size="34">Ce<tspan font-size="20" dy="12.5">3−<tspan font-style="italic">x</tspan></tspan><tspan dy="-12.5">Pd</tspan><tspan font-size="20" dy="12.5">20+<tspan font-style="italic">x</tspan></tspan><tspan dy="-12.5">Si</tspan><tspan font-size="20" dy="12.5">6</tspan><tspan dy="-12.5"> (<tspan font-style="italic">x</tspan>=0; 1)</tspan></text>
<g stroke="#000" stroke-width="2" fill="none"><path d="M47.9 722.7V765.3H90.9M47.9 765.3L52.7 769.8"/></g>
<text x="37" y="721.5" font-family="Liberation Sans, sans-serif" font-size="25">y</text>
<text x="97.5" y="773.5" font-family="Liberation Sans, sans-serif" font-size="25">x</text>
<text x="42" y="789.5" font-family="Liberation Sans, sans-serif" font-size="25">z</text>
<circle cx="166.7" cy="778.3" r="8" fill="url(#gLR)"/>
<circle cx="269.2" cy="778.3" r="9.7" fill="url(#gLB)"/>
<circle cx="374.2" cy="778.3" r="13" fill="url(#gLO)"/>
<text x="185.5" y="788.3" font-family="Liberation Serif, serif" font-size="27" letter-spacing="3">Pd</text>
<text x="287.5" y="788.3" font-family="Liberation Serif, serif" font-size="27" letter-spacing="3">Si</text>
<text x="399" y="788.3" font-family="Liberation Serif, serif" font-size="27" letter-spacing="2">Ce2</text>
<circle cx="176.8" cy="837.9" r="13.5" fill="url(#gLG)"/>
<path d="M195.2 833L221 813M195.2 840.1L223.7 855.6" stroke="#000" stroke-width="1.8" fill="none"/>
<text x="226" y="825.7" font-family="Liberation Serif, serif" font-size="26">Ce1 ( Ce<tspan font-size="17" dy="8">3</tspan><tspan dy="-8">Pd</tspan><tspan font-size="17" dy="8">20</tspan><tspan dy="-8">Si</tspan><tspan font-size="17" dy="8">6</tspan><tspan dy="-8"> )</tspan></text>
<text x="226" y="862.3" font-family="Liberation Serif, serif" font-size="26">Pd ( Ce<tspan font-size="17" dy="8">2</tspan><tspan dy="-8">Pd</tspan><tspan font-size="17" dy="8">21</tspan><tspan dy="-8">Si</tspan><tspan font-size="17" dy="8">6</tspan><tspan dy="-8"> )</tspan></text>
<text x="557" y="357.5" font-family="Liberation Serif, serif" font-size="28">Ce2 (8c)</text>
<text x="751" y="357.5" font-family="Liberation Serif, serif" font-size="28">Ce1/Pd (4<tspan font-style="italic">a</tspan>)</text>
<text x="731" y="609.3" font-family="Liberation Sans, sans-serif" font-size="27">Ce<tspan font-size="18" dy="12">3</tspan><tspan dy="-12">Pd</tspan><tspan font-size="18" dy="12">20</tspan><tspan dy="-12">Si</tspan><tspan font-size="18" dy="12" dx="1">6</tspan></text>
<line x1="699.2" y1="652.8" x2="723.2" y2="652.8" stroke="#ff7a1a" stroke-width="1.8"/>
<line x1="699.2" y1="687.2" x2="723.2" y2="687.2" stroke="#1cec1c" stroke-width="2"/>
<text x="727.5" y="659.7" font-family="Liberation Serif, serif" font-size="23.5"><tspan font-style="italic">C</tspan><tspan font-size="18.5" dy="7" dx="1">mag</tspan><tspan dy="-7" dx="5">from Ce2</tspan></text>
<text x="727.5" y="694" font-family="Liberation Serif, serif" font-size="23.5"><tspan font-style="italic">C</tspan><tspan font-size="18.5" dy="7" dx="1">mag</tspan><tspan dy="-7" dx="5">from Ce1</tspan></text>
<g font-family="Liberation Sans, sans-serif" font-size="16" text-anchor="end">
<text x="525" y="635">15</text><text x="525" y="704.3">10</text><text x="525" y="773">5</text><text x="524" y="843">0</text>
</g>
<g font-family="Liberation Sans, sans-serif" font-size="16" text-anchor="middle">
<text x="558.2" y="857">0.1</text><text x="681.3" y="857">1</text><text x="805.8" y="857">10</text>
</g>
<text x="724" y="873.7" font-family="Liberation Sans, sans-serif" font-size="17"><tspan font-style="italic">T</tspan>, K</text>
<text transform="translate(491,754.5) rotate(-90)" font-family="Liberation Sans, sans-serif" font-size="19.5">C<tspan font-size="11.5" dy="8" dx="3">mag</tspan><tspan dy="-8" dx="3.5">,</tspan><tspan dx="7.5" font-size="18">J/mol K</tspan></text>

</svg>
</body></html>
